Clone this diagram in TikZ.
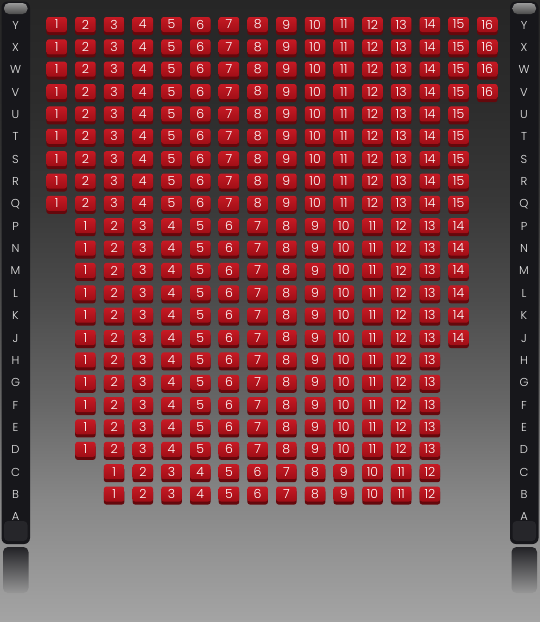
\documentclass[tikz,border=0pt]{standalone}
\usepackage{fontspec}
\setmainfont{Poppins}[UprightFont=* Light]
\usetikzlibrary{shadows}
\definecolor{bg0}{HTML}{A4A4A4}
\definecolor{bg1}{HTML}{878787}
\definecolor{bg2}{HTML}{666666}
\definecolor{bg3}{HTML}{4C4C4C}
\definecolor{bg4}{HTML}{383838}
\definecolor{bg5}{HTML}{2C2C2C}
\definecolor{bg6}{HTML}{262626}
\definecolor{barcol}{HTML}{17171B}
\definecolor{barin}{HTML}{26262A}
\definecolor{captop}{HTML}{9A9A9A}
\definecolor{capbot}{HTML}{4A4A4A}
\definecolor{seattop}{RGB}{198,26,36}
\definecolor{seatbot}{RGB}{160,14,22}
\definecolor{seatdark}{RGB}{100,8,12}
\definecolor{labcol}{HTML}{E6E6E6}
\pgfdeclareverticalshading{bgshade}{100bp}{color(0bp)=(bg0); color(25bp)=(bg0); color(34.8bp)=(bg1); color(42.8bp)=(bg2); color(50.9bp)=(bg3); color(58.9bp)=(bg4); color(67bp)=(bg5); color(75bp)=(bg6); color(100bp)=(bg6)}
\tikzset{
  seat/.style={rectangle, rounded corners=2.5pt, minimum width=20.5pt, minimum height=15pt,
    inner sep=0pt, top color=seattop, bottom color=seatbot, text=white,
    font=\fontsize{12.5}{12.5}\selectfont,
    drop shadow={shadow xshift=0pt, shadow yshift=-3pt, opacity=1, fill=seatdark}},
  rowlab/.style={text=labcol, inner sep=0pt, font=\fontsize{11.5}{11.5}\selectfont},
  sidebar/.style={fill=barcol, rounded corners=6pt},
  barinner/.style={fill=barin, rounded corners=4pt},
  barcap/.style={top color=captop, bottom color=capbot, rounded corners=5pt},
  refl/.style={top color=barcol!95!white, bottom color=bg0!92!black, rounded corners=5pt}
}
\begin{document}
\begin{tikzpicture}[x=1pt,y=-1pt]
\useasboundingbox (0,0) rectangle (540,622);
\shade[shading=bgshade] (0,0) rectangle (540,622);
% side bars
\foreach \bx in {1.5,510}{
  \fill[sidebar] (\bx,1.5) rectangle ++(28.5,542.5);
  \fill[barinner] (\bx+2.5,521) rectangle ++(23.5,20);
  \shade[barcap] (\bx+2.5,3) rectangle ++(23.5,11);
  \shade[refl] (\bx+1.5,547) rectangle ++(25.5,46);
}
% row labels
\foreach \r [count=\i from 0] in {Y,X,W,V,U,T,S,R,Q,P,N,M,L,K,J,H,G,F,E,D,C,B,A}{
  \pgfmathsetmacro\yy{25+\i*22.36}
  \node[rowlab] (L\r) at (15.5,\yy) {\r};
  \node[rowlab] (R\r) at (524,\yy) {\r};
}
% seats
\foreach \r/\s/\n [count=\i from 0] in {Y/1/16,X/1/16,W/1/16,V/1/16,U/1/15,T/1/15,S/1/15,R/1/15,Q/1/15,P/2/14,N/2/14,M/2/14,L/2/14,K/2/14,J/2/14,H/2/13,G/2/13,F/2/13,E/2/13,D/2/13,C/3/12,B/3/12}{
  \pgfmathsetmacro\yy{24.5+\i*22.36}
  \foreach \k in {1,...,\n}{
    \pgfmathsetmacro\xx{56.7+(\s+\k-2)*28.71}
    \node[seat] (s\r\k) at (\xx,\yy) {\k};
  }
}
\end{tikzpicture}
\end{document}
